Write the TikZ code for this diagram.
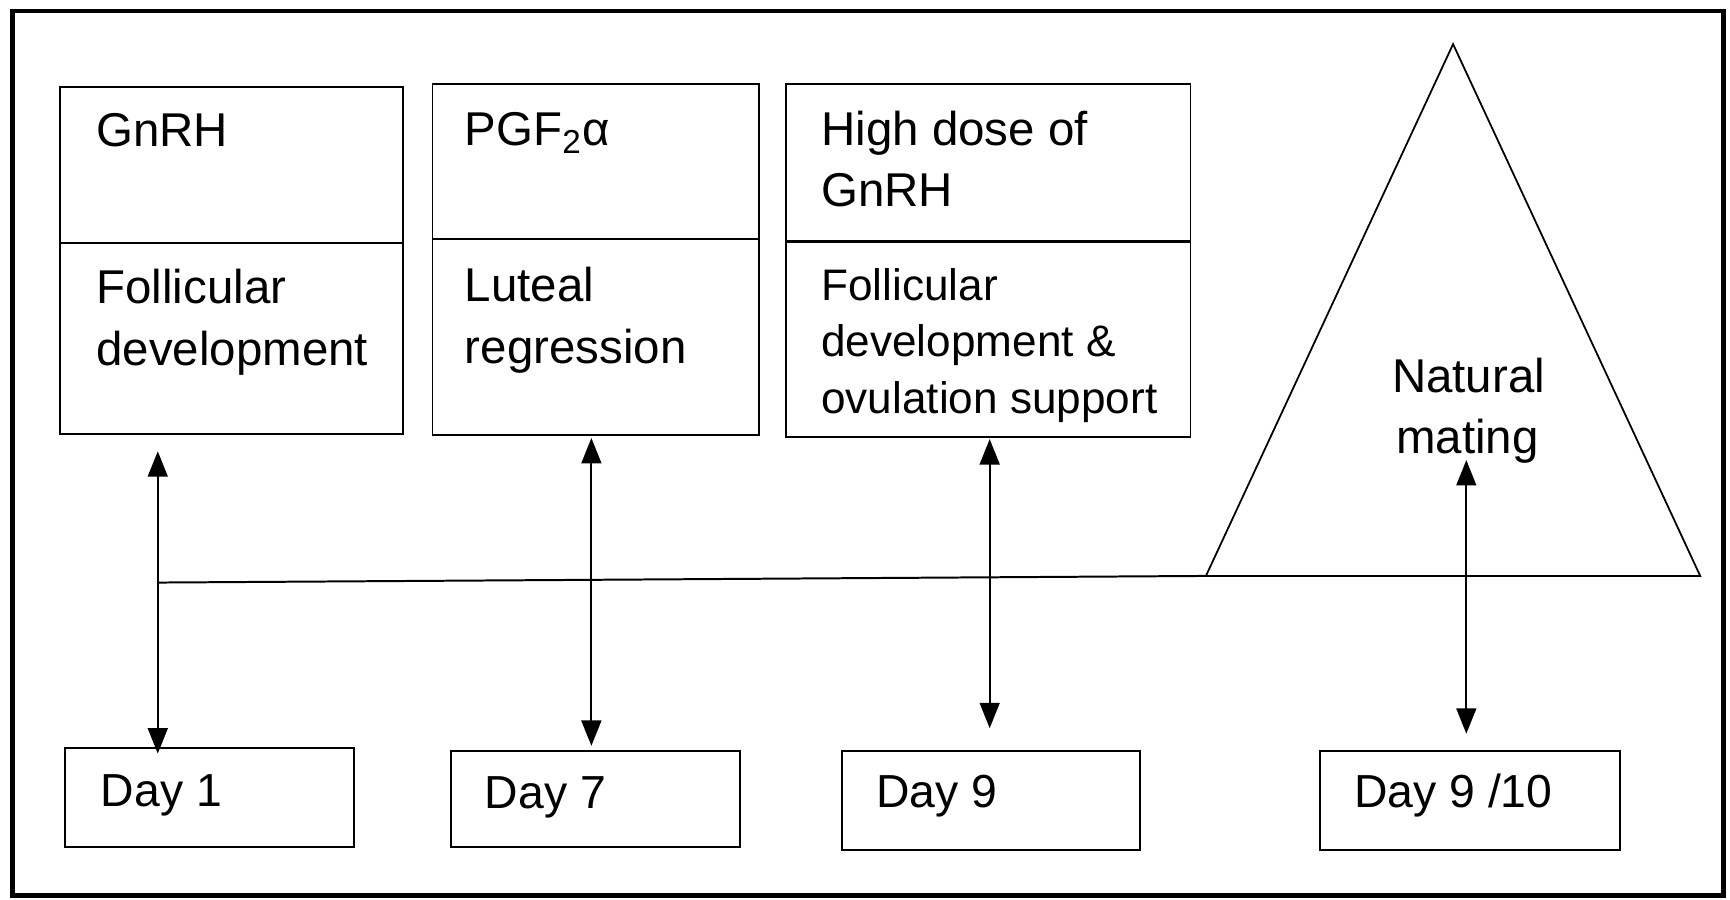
\documentclass[tikz,border=0pt]{standalone}
\usepackage{fontspec}
\setmainfont{Liberation Sans}
\usetikzlibrary{arrows.meta}
\begin{document}
\begin{tikzpicture}[x=0.5pt,y=-0.5pt,
  box/.style={draw, line width=0.9pt, inner sep=0pt, outer sep=0pt, anchor=north west},
  lbl/.style={anchor=base west, inner sep=0pt, font=\fontsize{21.5pt}{26pt}\selectfont},
  slbl/.style={anchor=base west, inner sep=0pt, font=\fontsize{20pt}{24pt}\selectfont},
  clbl/.style={anchor=base, inner sep=0pt, font=\fontsize{21.5pt}{26pt}\selectfont},
  dlbl/.style={anchor=base west, inner sep=0pt, font=\fontsize{21pt}{26pt}\selectfont},
  dbl/.style={line width=0.9pt, {Triangle[length=11.5pt,width=9pt]}-{Triangle[length=11.5pt,width=9pt]}},
  sep/.style={line width=0.9pt}
]
\useasboundingbox (0,0) rectangle (1568,815);
% outer frame
\draw[line width=2.2pt] (11,10) rectangle (1562,812);

% top boxes
\node[box, minimum width=155.5pt, minimum height=157pt] (b1) at (54,79) {};
\draw[sep] (54,220) -- (365,220);
\node[box, minimum width=148pt, minimum height=159pt] (b2) at (392,76) {};
\draw[sep] (392,217) -- (688,217);
\node[box, minimum width=183.5pt, minimum height=160pt] (b3) at (712,76) {};
\draw[line width=1.6pt] (712,219) -- (1079,219);

% triangle
\draw[line width=0.8pt] (1093,522) coordinate (tl) -- (1317,40) coordinate (tt) -- (1541,522) coordinate (tr) -- cycle;

% day boxes
\node[box, minimum width=131pt, minimum height=45pt] (d1) at (59,678) {};
\node[box, minimum width=131pt, minimum height=43.5pt] (d2) at (409,681) {};
\node[box, minimum width=135pt, minimum height=44.5pt] (d3) at (763,681) {};
\node[box, minimum width=136pt, minimum height=44.5pt] (d4) at (1196,681) {};

% timeline
\coordinate (t0) at (143,528);
\draw[line width=0.9pt] (t0) -- (tl);

% arrows
\coordinate (a1t) at (143,409); \coordinate (a1b) at (143,683);
\coordinate (a2t) at (536,397); \coordinate (a2b) at (536,676);
\coordinate (a3t) at (897,398); \coordinate (a3b) at (897,660);
\coordinate (a4t) at (1329,417); \coordinate (a4b) at (1329,665);
\draw[dbl] (a1t) -- (a1b);
\draw[dbl] (a2t) -- (a2b);
\draw[dbl] (a3t) -- (a3b);
\draw[dbl] (a4t) -- (a4b);

% texts
\node[lbl] (g1) at (87,133) {GnRH};
\node[lbl] (f1) at (87,275) {Follicular};
\node[lbl] (f2) at (87,331) {development};
\node[lbl] (p1) at (421,132) {PGF\textsubscript{2}α};
\node[lbl] (l1) at (421,273) {Luteal};
\node[lbl] (l2) at (421,329) {regression};
\node[lbl] (h1) at (744,132) {High dose of};
\node[lbl] (h2) at (744,187) {GnRH};
\node[slbl] (s1) at (744,272) {Follicular};
\node[slbl] (s2) at (744,323) {development \&};
\node[slbl] (s3) at (744,375) {ovulation support};
\node[clbl] (n1) at (1331,356) {Natural};
\node[clbl] (n2) at (1330,411) {mating};
\node[dlbl] (t1) at (91,731) {Day 1};
\node[dlbl] (t2) at (439,733) {Day 7};
\node[dlbl] (t3) at (794,732) {Day 9};
\node[dlbl] (t4) at (1227,732) {Day 9 /10};
\end{tikzpicture}
\end{document}
